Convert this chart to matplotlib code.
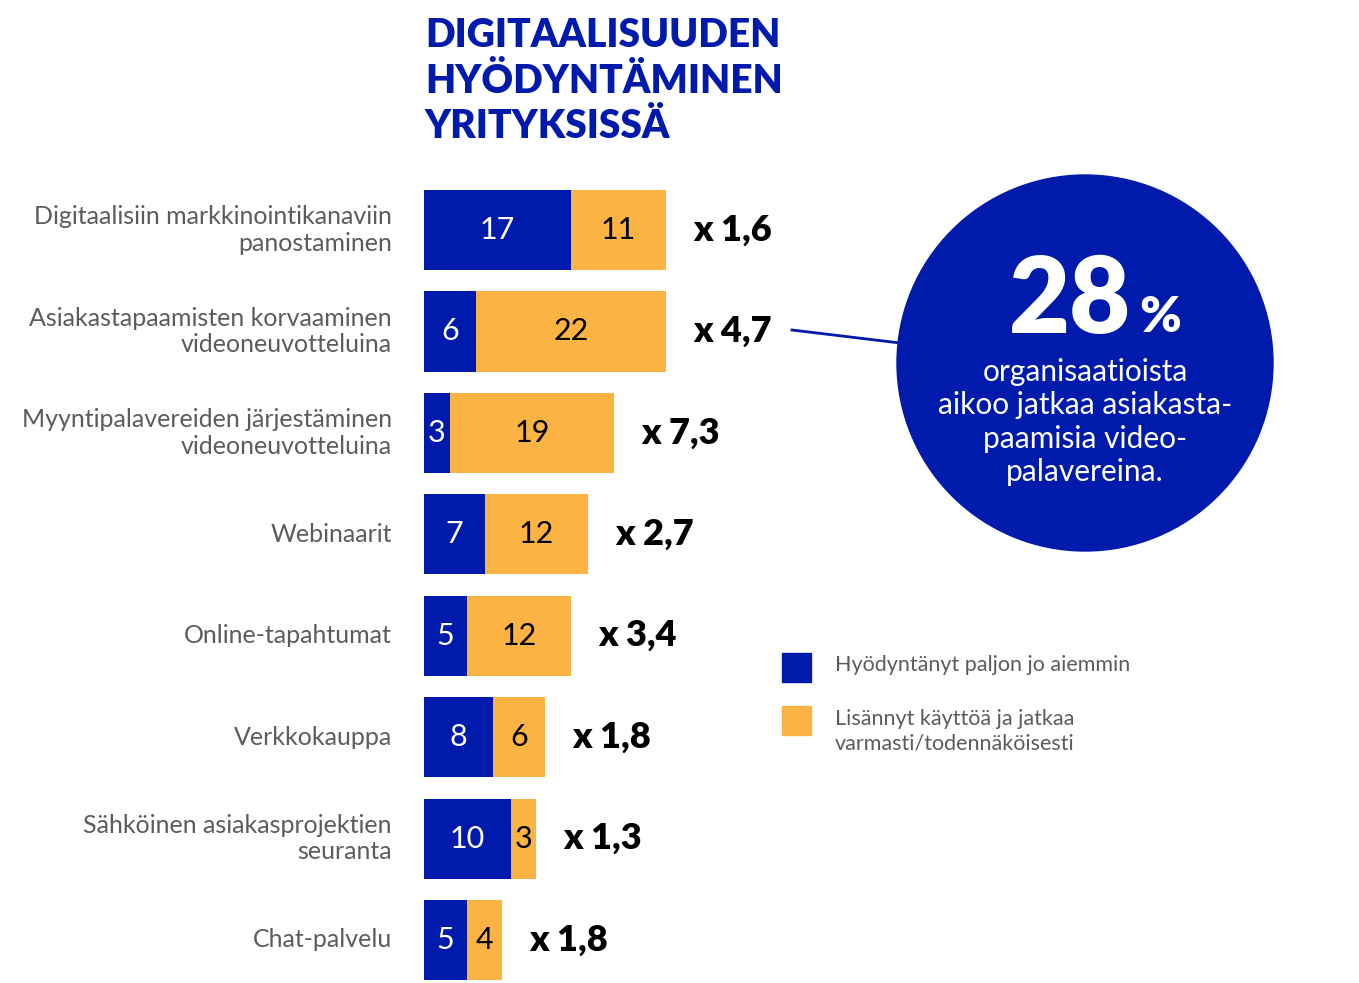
import numpy as np
import matplotlib.pyplot as plt
from matplotlib.patches import Circle, Rectangle

# Data
categories = ["Digitaalisiin markkinointikanaviin\npanostaminen",
              "Asiakastapaamisten korvaaminen\nvideoneuvotteluina",
              "Myyntipalavereiden järjestäminen\nvideoneuvotteluina",
              "Webinaarit",
              "Online-tapahtumat",
              "Verkkokauppa",
              "Sähköinen asiakasprojektien\nseuranta",
              "Chat-palvelu"]
before = [17, 6, 3, 7, 5, 8, 10, 5]
added = [11, 22, 19, 12, 12, 6, 3, 4]
multipliers = ["x 1,6", "x 4,7", "x 7,3", "x 2,7", "x 3,4", "x 1,8", "x 1,3", "x 1,8"]
legend_labels = ["Hyödyntänyt paljon jo aiemmin",
                 "Lisännyt käyttöä ja jatkaa\nvarmasti/todennäköisesti"]
title = "DIGITAALISUUDEN\nHYÖDYNTÄMINEN\nYRITYKSISSÄ"
big_value = "28"
circle_text = "organisaatioista\naikoo jatkaa asiakasta-\npaamisia video-\npalavereina."

BLUE = "#001aab"
YELLOW = "#fbb443"
GREY = "#5c5c5c"
FONT = ["Lato", "DejaVu Sans"]
plt.rcParams['font.family'] = FONT

W, H = 1359, 983
fig = plt.figure(figsize=(W / 100, H / 100), dpi=100)

# bar axes, placed in pixel terms
px_per_unit = 8.65
left_px = 424
top_px = 179.3
ylim_bottom = 7 + (H - 940) / 101.4
ax = fig.add_axes([left_px / W, 0, (W - left_px) / W, (H - top_px) / H])
ax.set_xlim(0, (W - left_px) / px_per_unit)
ax.set_ylim(ylim_bottom, -0.5)
ax.axis("off")

y = np.arange(len(categories))
ax.barh(y, before, height=0.79, color=BLUE)
ax.barh(y, added, left=before, height=0.79, color=YELLOW)

for i in range(len(categories)):
    ax.text(before[i] / 2, i, str(before[i]), ha="center", va="center",
            color="white", fontsize=22)
    ax.text(before[i] + added[i] / 2, i, str(added[i]), ha="center", va="center",
            color="black", fontsize=22)
    ax.text(before[i] + added[i] + 3.1, i, multipliers[i], ha="left", va="center",
            color="black", fontsize=26, fontweight="heavy")
    ax.text(-3.7, i, categories[i], ha="right", va="center", color=GREY,
            fontsize=18, linespacing=1.2)

# title
fig.text(425 / W, 1 - 17 / H, title, ha="left", va="top", color=BLUE,
         fontsize=28, fontweight="heavy", linespacing=1.29)

# circle callout
overlay = fig.add_axes([0, 0, 1, 1])
overlay.set_xlim(0, W)
overlay.set_ylim(H, 0)
overlay.axis("off")
overlay.patch.set_alpha(0)
overlay.plot([792, 900], [330, 343], color=BLUE, lw=2)
overlay.add_patch(Circle((1085, 363), 188, color=BLUE))
overlay.text(1070, 302, big_value, ha="center", va="center", color="white",
             fontsize=76, fontweight="heavy")
overlay.text(1160, 318, "%", ha="center", va="center", color="white",
             fontsize=36, fontweight="heavy")
overlay.text(1085, 422, circle_text, ha="center", va="center", color="white",
             fontsize=21.5, linespacing=1.23)

# legend
overlay.add_patch(Rectangle((782, 653), 29, 29, color=BLUE))
overlay.add_patch(Rectangle((782, 706), 29, 29, color=YELLOW))
overlay.text(835, 665, legend_labels[0], ha="left", va="center", color=GREY,
             fontsize=15.5)
overlay.text(835, 731, legend_labels[1], ha="left", va="center", color=GREY,
             fontsize=15.5, linespacing=1.25)

fig.savefig("out.png", dpi=100, facecolor="white")
